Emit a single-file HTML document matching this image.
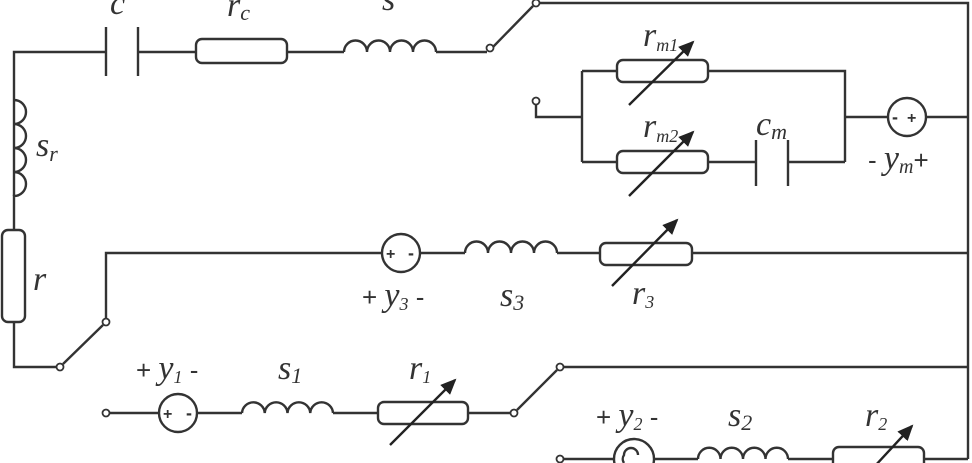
<!DOCTYPE html>
<html><head><meta charset="utf-8"><style>
html,body{margin:0;padding:0;background:#fff;}
svg{display:block;}
text{font-family:"Liberation Serif",serif;font-style:italic;fill:#333;}
.s{font-family:"Liberation Sans",sans-serif;font-style:normal;}
</style></head><body>
<svg width="972" height="463" viewBox="0 0 972 463" xmlns="http://www.w3.org/2000/svg">
<defs><marker id="ar" markerWidth="16" markerHeight="14" refX="14" refY="7" orient="auto" markerUnits="userSpaceOnUse"><path d="M0,0 L16,7 L0,14 Z" fill="#222"/></marker></defs>
<g stroke="#333" stroke-width="2.4" fill="none">
<path d="M14,196 V100 M14,100 V52 H106 M138,52 H196 M287,52 H344 M436,52 H487"/>
<line x1="106" y1="27" x2="106" y2="76"/><line x1="138" y1="27" x2="138" y2="76"/>
<rect x="196" y="39" width="91" height="24" rx="6"/>
<path d="M344,52 a11.5,11.5 0 0 1 23,0 a11.5,11.5 0 0 1 23,0 a11.5,11.5 0 0 1 23,0 a11.5,11.5 0 0 1 23,0"/>
<line x1="492" y1="48" x2="533" y2="6"/>
<path d="M539,3 H968 V459"/>
<path d="M14,100 a12,12 0 0 1 0,24 a12,12 0 0 1 0,24 a12,12 0 0 1 0,24 a12,12 0 0 1 0,24 V230"/>
<rect x="2" y="230" width="23" height="92" rx="6"/>
<path d="M14,322 V367 H57"/>
<line x1="63" y1="364" x2="103" y2="325"/>
<path d="M106,319 V253 H382 M420,253 H465 M557,253 H600 M692,253 H968"/>
<circle cx="401" cy="253" r="19"/>
<path d="M465,253 a11.5,11.5 0 0 1 23,0 a11.5,11.5 0 0 1 23,0 a11.5,11.5 0 0 1 23,0 a11.5,11.5 0 0 1 23,0"/>
<rect x="600" y="243" width="92" height="22" rx="6"/>
<path d="M536,104 V117 H582 M582,71 V162 M582,71 H617 M708,71 H845 V162 M582,162 H617 M708,162 H756 M788,162 H845 M845,117 H888 M926,117 H968"/>
<rect x="617" y="60" width="91" height="22" rx="6"/>
<rect x="617" y="151" width="91" height="22" rx="6"/>
<line x1="756" y1="140" x2="756" y2="186"/><line x1="788" y1="140" x2="788" y2="186"/>
<circle cx="907" cy="117" r="19"/>
<path d="M109,413 H159 M197,413 H242 M333,413 H378 M468,413 H511"/>
<circle cx="178" cy="413" r="19"/>
<path d="M242,413 a11.4,11.4 0 0 1 22.75,0 a11.4,11.4 0 0 1 22.75,0 a11.4,11.4 0 0 1 22.75,0 a11.4,11.4 0 0 1 22.75,0"/>
<rect x="378" y="402" width="90" height="22" rx="6"/>
<line x1="517" y1="410" x2="557" y2="370"/>
<path d="M563,367 H968"/>
<path d="M563,459 H614 M654,459 H698 M788,459 H833 M924,459 H968"/>
<circle cx="634" cy="459" r="20"/>
<path d="M624,463 a7,7 0 0 1 0,-8 a7,7 0 0 1 14,0"/>
<path d="M698,459 a11.25,11.25 0 0 1 22.5,0 a11.25,11.25 0 0 1 22.5,0 a11.25,11.25 0 0 1 22.5,0 a11.25,11.25 0 0 1 22.5,0"/>
<rect x="833" y="447" width="91" height="22" rx="6"/>
</g>
<g stroke="#333" stroke-width="1.8" fill="#fff">
<circle cx="490" cy="48" r="3.5"/><circle cx="536" cy="3" r="3.5"/><circle cx="536" cy="101" r="3.5"/>
<circle cx="60" cy="367" r="3.5"/><circle cx="106" cy="322" r="3.5"/>
<circle cx="106" cy="413" r="3.5"/><circle cx="514" cy="413" r="3.5"/><circle cx="560" cy="367" r="3.5"/>
<circle cx="560" cy="459" r="3.5"/>
</g>
<g stroke="#222" stroke-width="2.4" marker-end="url(#ar)">
<line x1="629" y1="105" x2="693" y2="42"/>
<line x1="629" y1="196" x2="693" y2="132"/>
<line x1="612" y1="286" x2="677" y2="220"/>
<line x1="390" y1="445" x2="455" y2="380"/>
<line x1="862" y1="480" x2="912" y2="426"/>
</g>
<g font-weight="bold">
<text class="s" x="386" y="259" font-size="16">+</text><text class="s" x="408" y="259" font-size="18">-</text>
<text class="s" x="163" y="419" font-size="16">+</text><text class="s" x="186" y="419" font-size="18">-</text>
<text class="s" x="892" y="123" font-size="18">-</text><text class="s" x="907" y="123" font-size="16">+</text>
</g>
<g font-size="34">
<text x="110" y="14">c</text>
<text x="227" y="16">r<tspan font-size="22" dy="4">c</tspan></text>
<text x="382" y="10">s</text>
<text x="36" y="156">s<tspan font-size="22" dy="5">r</tspan></text>
<text x="33" y="290">r</text>
<text x="643" y="46">r<tspan font-size="18" dy="5">m1</tspan></text>
<text x="643" y="137">r<tspan font-size="18" dy="5">m2</tspan></text>
<text x="756" y="135">c<tspan font-size="22" dy="4">m</tspan></text>
<text x="868" y="169"><tspan class="s" font-size="26">- </tspan>y<tspan font-size="20" dy="4">m</tspan><tspan class="s" font-size="26" dy="-4">+</tspan></text>
<text x="362" y="306"><tspan class="s" font-size="26">+ </tspan>y<tspan font-size="18" dy="4">3</tspan><tspan class="s" font-size="26" dy="-4"> -</tspan></text>
<text x="500" y="306">s<tspan font-size="22" dy="4">3</tspan></text>
<text x="632" y="304">r<tspan font-size="18" dy="4">3</tspan></text>
<text x="136" y="379"><tspan class="s" font-size="26">+ </tspan>y<tspan font-size="18" dy="4">1</tspan><tspan class="s" font-size="26" dy="-4"> -</tspan></text>
<text x="278" y="379">s<tspan font-size="22" dy="4">1</tspan></text>
<text x="409" y="379">r<tspan font-size="18" dy="4">1</tspan></text>
<text x="596" y="426"><tspan class="s" font-size="26">+ </tspan>y<tspan font-size="18" dy="4">2</tspan><tspan class="s" font-size="26" dy="-4"> -</tspan></text>
<text x="728" y="426">s<tspan font-size="22" dy="4">2</tspan></text>
<text x="865" y="426">r<tspan font-size="18" dy="4">2</tspan></text>
</g>
</svg>
</body></html>
